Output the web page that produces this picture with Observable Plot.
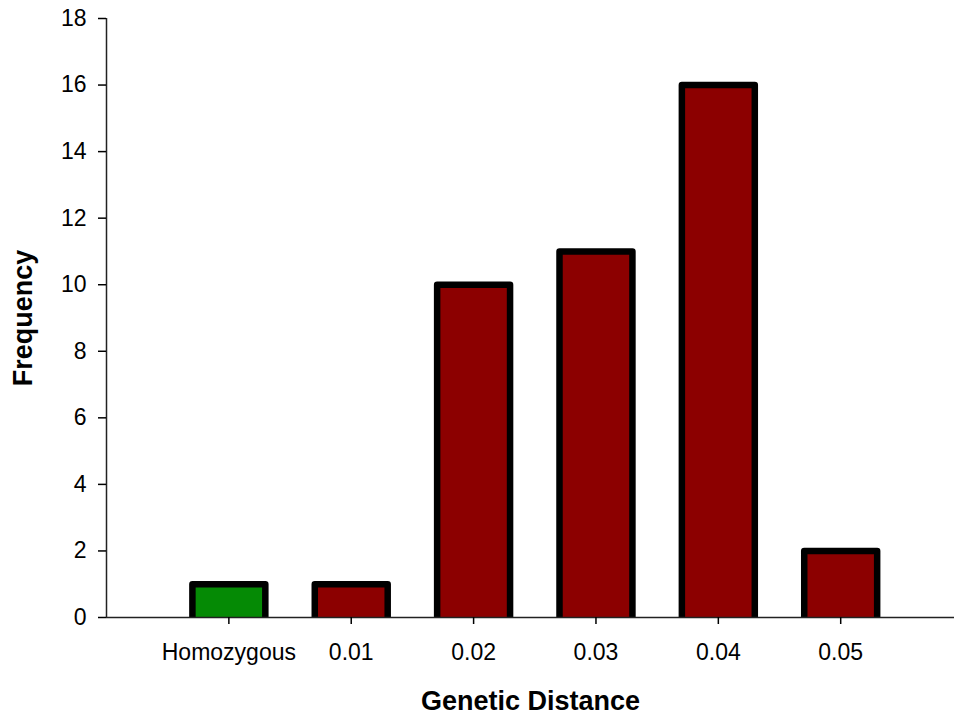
<!DOCTYPE html>
<html>
<head>
<meta charset="utf-8">
<script src="https://cdn.jsdelivr.net/npm/d3@7"></script>
<script src="https://cdn.jsdelivr.net/npm/@observablehq/plot@0.6"></script>
<style>
  html, body { margin: 0; padding: 0; background: #fff; }
  #chart { width: 954px; height: 716px; }
</style>
</head>
<body>
<div id="chart"></div>
<script>
// ---- data ----
const categories = ["Homozygous", "0.01", "0.02", "0.03", "0.04", "0.05"];
const frequency = [1, 1, 10, 11, 16, 2];
const group = ["Homozygous", "Distance", "Distance", "Distance", "Distance", "Distance"];
const yTicks = [0, 2, 4, 6, 8, 10, 12, 14, 16, 18];
const xTitle = "Genetic Distance";
const yTitle = "Frequency";

// ---- build table ----
const half = 0.298; // half bar width in category units
const bars = categories.map((c, i) => ({
  pos: i, label: c, value: frequency[i], group: group[i]
}));
const outline = bars.flatMap(b => [
  {bar: b.pos, x: b.pos - half, y: 0},
  {bar: b.pos, x: b.pos - half, y: b.value},
  {bar: b.pos, x: b.pos + half, y: b.value},
  {bar: b.pos, x: b.pos + half, y: 0}
]);

const chart = Plot.plot({
  width: 954,
  height: 716,
  marginLeft: 106,
  marginRight: 0,
  marginTop: 18,
  marginBottom: 99,
  style: {fontFamily: "'Liberation Sans', Arial, sans-serif", color: "#000", background: "#fff"},
  x: {type: "linear", domain: [-1, 5.93]},
  y: {domain: [0, 18]},
  color: {domain: ["Homozygous", "Distance"], range: ["#058a05", "#8c0000"]},
  marks: [
    Plot.rectY(bars, {x1: d => d.pos - half, x2: d => d.pos + half, y1: 0, y2: "value", fill: "group"}),
    Plot.line(outline, {x: "x", y: "y", z: "bar", stroke: "#000", strokeWidth: 6.5, strokeLinejoin: "round", strokeLinecap: "butt"}),
    Plot.ruleY([0], {stroke: "#222", strokeWidth: 1.5}),
    Plot.ruleX([-1], {y1: 0, y2: 18, stroke: "#222", strokeWidth: 1.5}),
    Plot.axisY({ticks: yTicks, tickSize: 8, tickPadding: 12, fontSize: 23, label: null, strokeWidth: 1.5}),
    Plot.axisX({ticks: categories.map((c, i) => i), tickFormat: i => categories[i], tickSize: 7, tickPadding: 19, fontSize: 23, label: null, strokeWidth: 1.5}),
    Plot.text([xTitle], {frameAnchor: "bottom", lineAnchor: "bottom", textAnchor: "middle", dy: 92, fontSize: 27, fontWeight: "bold"}),
    Plot.text([yTitle], {frameAnchor: "left", lineAnchor: "bottom", textAnchor: "middle", rotate: -90, dx: -75, fontSize: 27, fontWeight: "bold"})
  ]
});
document.getElementById("chart").appendChild(chart);
</script>
</body>
</html>
